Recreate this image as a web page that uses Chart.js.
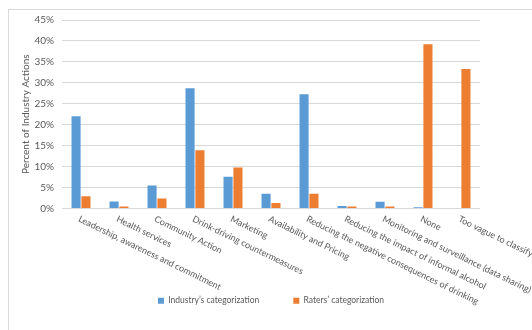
<!DOCTYPE html>
<html>
<head>
<meta charset="utf-8">
<script src="https://cdn.jsdelivr.net/npm/chart.js@4/dist/chart.umd.min.js"></script>
<style>
  html, body { margin: 0; padding: 0; background: #fff; overflow: hidden; }
  #wrap { position: relative; width: 532px; height: 330px; }
</style>
</head>
<body>
<div id="wrap"><canvas id="myChart"></canvas></div>
<script>
// categories and values (percent)
const categories = [
  "Leadership, awareness and commitment",
  "Health services",
  "Community Action",
  "Drink-driving countermeasures",
  "Marketing",
  "Availability and Pricing",
  "Reducing the negative consequences of drinking",
  "Reducing the impact of informal alcohol",
  "Monitoring and surveillance (data sharing)",
  "None",
  "Too vague to classify"
];
const industry = [22.0, 1.7, 5.5, 28.7, 7.6, 3.5, 27.3, 0.6, 1.6, 0.3, 0];
const raters = [2.9, 0.5, 2.4, 13.9, 9.8, 1.3, 3.5, 0.5, 0.5, 39.2, 33.3];
const seriesNames = ["Industry\u2019s categorization", "Raters\u2019 categorization"];

const FONT = "Lato, 'Open Sans', sans-serif";
const GREY = "#595959";

// outer chart frame, cut off on the right and bottom like the source
const framePlugin = {
  id: "frame",
  beforeDraw(chart) {
    const ctx = chart.ctx;
    ctx.save();
    ctx.fillStyle = "#fff";
    ctx.fillRect(0, 0, chart.width, chart.height);
    ctx.strokeStyle = "#d9d9d9";
    ctx.lineWidth = 1;
    ctx.strokeRect(8.5, 9.5, 700, 500);
    ctx.restore();
  }
};

// slanted category labels that start at the tick and run down to the right
const slantLabels = {
  id: "slantLabels",
  afterDraw(chart) {
    const ctx = chart.ctx;
    const xs = chart.scales.x;
    const top = chart.chartArea.bottom;
    ctx.save();
    ctx.font = "9px " + FONT;
    ctx.fillStyle = GREY;
    ctx.textAlign = "left";
    ctx.textBaseline = "middle";
    categories.forEach((c, i) => {
      ctx.save();
      ctx.translate(xs.getPixelForValue(i) - 2, top + 10);
      ctx.rotate(26 * Math.PI / 180);
      ctx.fillText(c, 0, 0);
      ctx.restore();
    });
    ctx.restore();
  }
};

new Chart(document.getElementById("myChart"), {
  type: "bar",
  data: {
    labels: categories,
    datasets: [
      {
        label: seriesNames[0],
        data: industry,
        backgroundColor: "#5b9bd5",
        categoryPercentage: 0.52,
        barPercentage: 0.92
      },
      {
        label: seriesNames[1],
        data: raters,
        backgroundColor: "#ed7d31",
        categoryPercentage: 0.52,
        barPercentage: 0.92
      }
    ]
  },
  options: {
    responsive: true,
    maintainAspectRatio: false,
    animation: false,
    layout: { padding: { left: 20, right: 52, top: 20, bottom: 15 } },
    plugins: {
      legend: {
        position: "bottom",
        fullSize: false,
        labels: {
          boxWidth: 6,
          boxHeight: 6,
          padding: 34,
          color: GREY,
          font: { family: FONT, size: 8.5 }
        }
      },
      tooltip: { enabled: false }
    },
    scales: {
      x: {
        grid: { display: false },
        border: { display: false },
        ticks: { display: false },
        afterFit(scale) { scale.height = 54; }
      },
      y: {
        min: 0,
        max: 45,
        ticks: {
          stepSize: 5,
          padding: 8,
          color: GREY,
          font: { family: FONT, size: 10 },
          callback: (v) => v + "%"
        },
        grid: { color: "#d9d9d9", drawTicks: false },
        border: { display: false },
        title: {
          display: true,
          text: "Percent of Industry Actions",
          color: GREY,
          padding: 0,
          font: { family: FONT, size: 10 }
        },
        afterFit(scale) { scale.width = 42; }
      }
    }
  },
  plugins: [framePlugin, slantLabels]
});
</script>
</body>
</html>
